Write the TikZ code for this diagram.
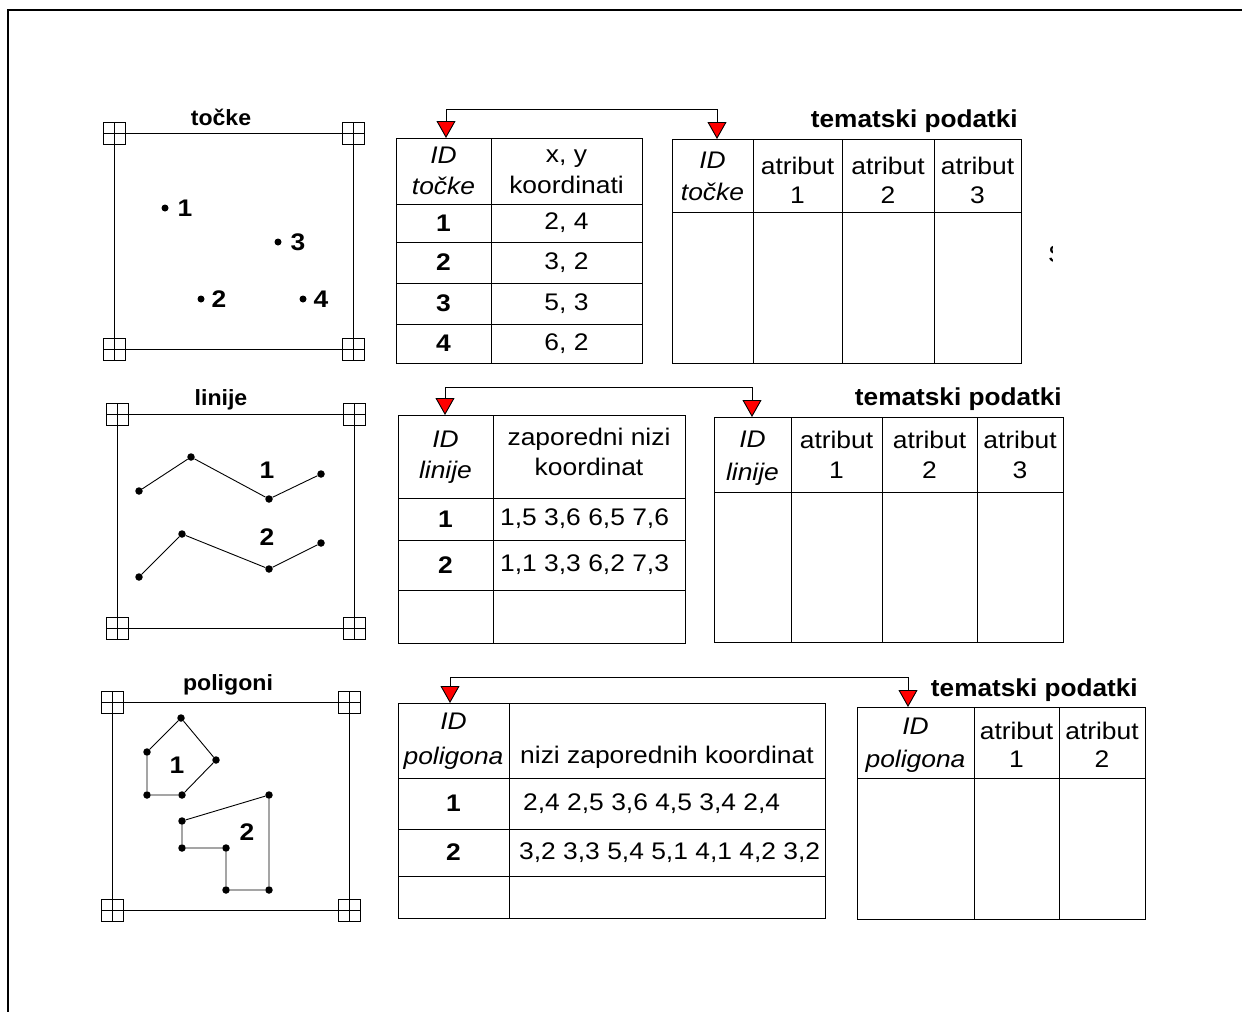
\documentclass[tikz,border=0pt]{standalone}
\usepackage{fontspec}
\setmainfont[FakeStretch=1.1]{Liberation Sans}
\newfontfamily\titlefont[FakeStretch=1.05]{Liberation Sans}
\newfontfamily\tabtitlefont[FakeStretch=1.07]{Liberation Sans}
\usetikzlibrary{arrows.meta}
\tikzset{
  cellbox/.style={draw, line width=0.9pt, inner sep=0pt, outer sep=0pt},
  ttxt/.style={inner sep=0pt, align=center, font=\fontsize{24}{#1}\selectfont},
  ttxt/.default=30,
  tid/.style={inner sep=0pt, align=center, font=\fontsize{24}{#1}\selectfont\itshape},
  tid/.default=30,
  tnum/.style={inner sep=0pt, font=\fontsize{24}{28}\selectfont\bfseries},
  ttitle/.style={inner sep=0pt, font=\titlefont\fontsize{22}{26}\selectfont\bfseries},
  tabtitle/.style={inner sep=0pt, font=\tabtitlefont\fontsize{24.5}{28}\selectfont\bfseries},
  mapframe/.style={draw, line width=0.9pt},
  dotA/.style={circle, fill=black, inner sep=0pt, minimum size=7pt},
  dotB/.style={circle, fill=black, inner sep=0pt, minimum size=7.5pt},
  maplab/.style={inner sep=0pt, font=\fontsize{24}{28}\selectfont\bfseries},
  mapline/.style={line width=0.9pt},
  conn/.style={line width=0.9pt, {Triangle[width=19pt,length=17pt,fill=red]}-{Triangle[width=19pt,length=17pt,fill=red]}},
  cornermark/.pic={\draw[line width=0.7pt] (-11,-11) rectangle (11,11) (-11,0) -- (11,0) (0,-11) -- (0,11);}
}
\newcommand\tcell[5]{\node[cellbox, anchor=north west, minimum width={(#4)-(#2)}, minimum height={(#5)-(#3)}] (#1) at (#2,#3) {};}
\begin{document}
\begin{tikzpicture}[x=1pt, y=-1pt]
\fill[white] (0,0) rectangle (1242,1012);
\useasboundingbox (0,0) rectangle (1242,1012);
% page frame (cut)
\draw[line width=2pt] (1242,10) -- (8,10) -- (8,1012);

% ---------- Map 1: tocke ----------
\draw[mapframe] (114,133) rectangle (353,349);
\foreach \p in {(114,133),(353,133),(114,349),(353,349)} \pic at \p {cornermark};
\node[ttitle, anchor=base] (m1title) at (221,125) {točke};
\node[dotA] (p1) at (165,208) {}; \node[maplab] (p1l) at (185,208) {1};
\node[dotA] (p3) at (278,242) {}; \node[maplab] (p3l) at (298,242) {3};
\node[dotA] (p2) at (201,299) {}; \node[maplab] (p2l) at (219,299) {2};
\node[dotA] (p4) at (303,299) {}; \node[maplab] (p4l) at (321,299) {4};

% ---------- Table 1 ----------
\tcell{t1h1}{396}{138}{491}{204}
\tcell{t1h2}{491}{138}{642}{204}
\tcell{t1a1}{396}{204}{491}{242}
\tcell{t1b1}{491}{204}{642}{242}
\tcell{t1a2}{396}{242}{491}{283}
\tcell{t1b2}{491}{242}{642}{283}
\tcell{t1a3}{396}{283}{491}{324}
\tcell{t1b3}{491}{283}{642}{324}
\tcell{t1a4}{396}{324}{491}{363}
\tcell{t1b4}{491}{324}{642}{363}
\node[tid=31] (t1h1t) at (t1h1.center) {ID\\točke};
\node[ttxt=31] (t1h2t) at ([yshift=-1pt]t1h2.center) {x, y\\koordinati};
\node[tnum] (t1a1t) at (t1a1.center) {1};
\node[tnum] (t1a2t) at (t1a2.center) {2};
\node[tnum] (t1a3t) at (t1a3.center) {3};
\node[tnum] (t1a4t) at (t1a4.center) {4};
\node[ttxt] (t1b1t) at (t1b1.center) {2, 4};
\node[ttxt] (t1b2t) at (t1b2.center) {3, 2};
\node[ttxt] (t1b3t) at (t1b3.center) {5, 3};
\node[ttxt] (t1b4t) at (t1b4.center) {6, 2};

% ---------- Table 2 ----------
\tcell{t2h1}{672}{139}{753}{212}
\tcell{t2h2}{753}{139}{842}{212}
\tcell{t2h3}{842}{139}{934}{212}
\tcell{t2h4}{934}{139}{1021}{212}
\tcell{t2b1}{672}{212}{753}{363}
\tcell{t2b2}{753}{212}{842}{363}
\tcell{t2b3}{842}{212}{934}{363}
\tcell{t2b4}{934}{212}{1021}{363}
\node[tid=32] (t2h1t) at ([yshift=-1pt]t2h1.center) {ID\\točke};
\node[ttxt=29] (t2h2t) at ([yshift=-5pt]t2h2.center) {atribut\\1};
\node[ttxt=29] (t2h3t) at ([yshift=-5pt]t2h3.center) {atribut\\2};
\node[ttxt=29] (t2h4t) at ([yshift=-5pt]t2h4.center) {atribut\\3};
\node[tabtitle, anchor=base east] (t2title) at (1018,127) {tematski podatki};

\coordinate (a1s) at (446,138);
\coordinate (a1c) at (446,109);
\coordinate (a1e) at (717,139);
\draw[conn] (a1s) -- (a1c) -| (a1e);

% stray clipped glyph
\begin{scope}
\clip (1044,243) rectangle (1052,266);
\node[ttxt] (sfrag) at (1057,254) {S};
\end{scope}

% ---------- Map 2: linije ----------
\draw[mapframe] (117,414) rectangle (354,628);
\foreach \p in {(117,414),(354,414),(117,628),(354,628)} \pic at \p {cornermark};
\node[ttitle, anchor=base] (m2title) at (221,405) {linije};
\node[dotB] (l1a) at (139,491) {};
\node[dotB] (l1b) at (191,457) {};
\node[dotB] (l1c) at (269,499) {};
\node[dotB] (l1d) at (321,474) {};
\draw[mapline] (l1a) -- (l1b) -- (l1c) -- (l1d);
\node[dotB] (l2a) at (139,577) {};
\node[dotB] (l2b) at (182,534) {};
\node[dotB] (l2c) at (269,569) {};
\node[dotB] (l2d) at (321,543) {};
\draw[mapline] (l2a) -- (l2b) -- (l2c) -- (l2d);
\node[maplab] (l1lab) at (267,470) {1};
\node[maplab] (l2lab) at (267,537) {2};

% ---------- Table 3 ----------
\tcell{t3h1}{398}{415}{493}{498}
\tcell{t3h2}{493}{415}{685}{498}
\tcell{t3a1}{398}{498}{493}{540}
\tcell{t3b1}{493}{498}{685}{540}
\tcell{t3a2}{398}{540}{493}{590}
\tcell{t3b2}{493}{540}{685}{590}
\tcell{t3a3}{398}{590}{493}{643}
\tcell{t3b3}{493}{590}{685}{643}
\node[tid=31] (t3h1t) at ([yshift=-1pt]t3h1.center) {ID\\linije};
\node[ttxt=30] (t3h2t) at ([yshift=4.5pt]t3h2.center) {zaporedni nizi\\koordinat};
\node[tnum] (t3a1t) at (t3a1.center) {1};
\node[tnum] (t3a2t) at (t3a2.center) {2};
\node[ttxt, anchor=west] (t3b1t) at ([xshift=7pt]t3b1.west) {1,5 3,6 6,5 7,6};
\node[ttxt, anchor=west] (t3b2t) at ([xshift=7pt]t3b2.west) {1,1 3,3 6,2 7,3};

% ---------- Table 4 ----------
\tcell{t4h1}{714}{417}{791}{492}
\tcell{t4h2}{791}{417}{882}{492}
\tcell{t4h3}{882}{417}{977}{492}
\tcell{t4h4}{977}{417}{1063}{492}
\tcell{t4b1}{714}{492}{791}{642}
\tcell{t4b2}{791}{492}{882}{642}
\tcell{t4b3}{882}{492}{977}{642}
\tcell{t4b4}{977}{492}{1063}{642}
\node[tid=33] (t4h1t) at ([yshift=-4pt]t4h1.center) {ID\\linije};
\node[ttxt=30] (t4h2t) at (t4h2.center) {atribut\\1};
\node[ttxt=30] (t4h3t) at (t4h3.center) {atribut\\2};
\node[ttxt=30] (t4h4t) at (t4h4.center) {atribut\\3};
\node[tabtitle, anchor=base east] (t4title) at (1062,405) {tematski podatki};

\coordinate (a2s) at (445,415);
\coordinate (a2c) at (445,387);
\coordinate (a2e) at (752,417);
\draw[conn] (a2s) -- (a2c) -| (a2e);

% ---------- Map 3: poligoni ----------
\draw[mapframe] (112,702) rectangle (349,910);
\foreach \p in {(112,702),(349,702),(112,910),(349,910)} \pic at \p {cornermark};
\node[ttitle, anchor=base] (m3title) at (228,690) {poligoni};
\node[dotB] (g1a) at (181,718) {};
\node[dotB] (g1b) at (216,760) {};
\node[dotB] (g1c) at (182,795) {};
\node[dotB] (g1d) at (147,795) {};
\node[dotB] (g1e) at (147,752) {};
\draw[mapline] (g1a) -- (g1b) -- (g1c) -- (g1d) -- (g1e) -- (g1a);
\node[maplab] (g1lab) at (177,765) {1};
\node[dotB] (g2a) at (269,795) {};
\node[dotB] (g2b) at (269,890) {};
\node[dotB] (g2c) at (226,890) {};
\node[dotB] (g2d) at (226,848) {};
\node[dotB] (g2e) at (182,848) {};
\node[dotB] (g2f) at (182,821) {};
\draw[mapline] (g2a) -- (g2b) -- (g2c) -- (g2d) -- (g2e) -- (g2f) -- (g2a);
\node[maplab] (g2lab) at (247,832) {2};

% ---------- Table 5 ----------
\tcell{t5h1}{398}{703}{509}{778}
\tcell{t5h2}{509}{703}{825}{778}
\tcell{t5a1}{398}{778}{509}{829}
\tcell{t5b1}{509}{778}{825}{829}
\tcell{t5a2}{398}{829}{509}{876}
\tcell{t5b2}{509}{829}{825}{876}
\tcell{t5a3}{398}{876}{509}{918}
\tcell{t5b3}{509}{876}{825}{918}
\node[tid=35] (t5h1t) at ([yshift=-1pt]t5h1.center) {ID\\poligona};
\node[ttxt, anchor=base] (t5h2t) at (667,763) {nizi zaporednih koordinat};
\node[tnum] (t5a1t) at (t5a1.center) {1};
\node[tnum] (t5a2t) at (t5a2.center) {2};
\node[ttxt, anchor=west] (t5b1t) at ([xshift=14pt]t5b1.west) {2,4 2,5 3,6 4,5 3,4 2,4};
\node[ttxt, anchor=west] (t5b2t) at ([xshift=10pt]t5b2.west) {3,2 3,3 5,4 5,1 4,1 4,2 3,2};

% ---------- Table 6 ----------
\tcell{t6h1}{857}{707}{974}{778}
\tcell{t6h2}{974}{707}{1059}{778}
\tcell{t6h3}{1059}{707}{1145}{778}
\tcell{t6b1}{857}{778}{974}{919}
\tcell{t6b2}{974}{778}{1059}{919}
\tcell{t6b3}{1059}{778}{1145}{919}
\node[tid=33] (t6h1t) at ([yshift=-3pt]t6h1.center) {ID\\poligona};
\node[ttxt=28] (t6h2t) at ([yshift=-2pt]t6h2.center) {atribut\\1};
\node[ttxt=28] (t6h3t) at ([yshift=-2pt]t6h3.center) {atribut\\2};
\node[tabtitle, anchor=base east] (t6title) at (1138,696) {tematski podatki};

\coordinate (a3s) at (450,703);
\coordinate (a3c) at (450,677);
\coordinate (a3e) at (908,707);
\draw[conn] (a3s) -- (a3c) -| (a3e);
\end{tikzpicture}
\end{document}
